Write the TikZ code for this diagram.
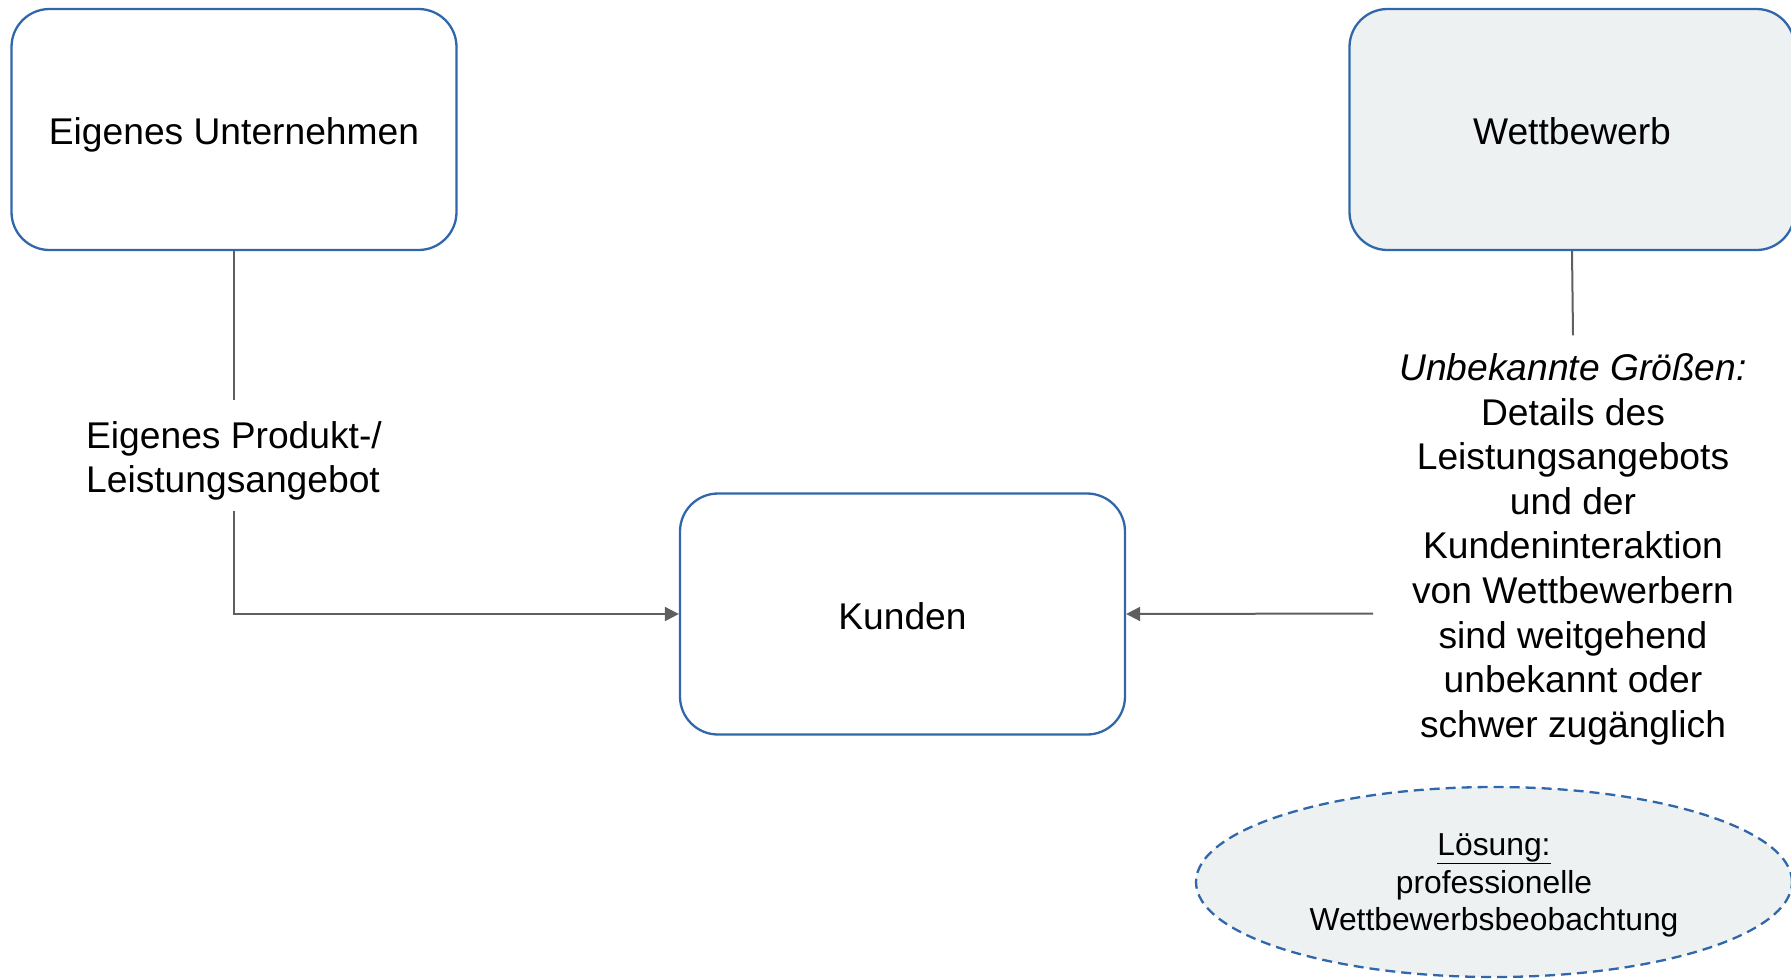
\documentclass[tikz,border=0pt]{standalone}
\usepackage{fontspec}
\setmainfont{Liberation Sans}
\usetikzlibrary{arrows.meta,shapes.geometric,calc}
\definecolor{boxblue}{RGB}{47,103,170}
\definecolor{boxfill}{RGB}{238,241,242}
\definecolor{conngray}{RGB}{95,95,95}
\begin{document}
\begin{tikzpicture}[x=1pt,y=1pt,
  mainbox/.style={draw=boxblue,line width=2.3pt,rounded corners=38pt,minimum width=445pt,minimum height=241pt,inner sep=0pt,text height=30pt,text depth=0pt,font=\fontsize{37.2}{44.6}\selectfont},
  bigtext/.style={font=\fontsize{37.2}{44.6}\selectfont,inner sep=0pt},
  conn/.style={draw=conngray,line width=2pt},
  arr/.style={conn,-{Triangle[length=14pt,width=14pt]}}]
\useasboundingbox (0,0) rectangle (1791,-978);
\node[mainbox] (eu) at (234,-129.5) {Eigenes Unternehmen};
\node[mainbox,fill=boxfill] (wb) at (1572,-129.5) {Wettbewerb};
\node[mainbox] (ku) at (902.5,-614) {Kunden};
\node[bigtext,align=left] (lbl) at (234,-461) {Eigenes Produkt-/\\Leistungsangebot};
\node[bigtext,align=center] (unk) at (1573,-549.2) {\textit{Unbekannte Größen:}\\Details des\\Leistungsangebots\\und der\\Kundeninteraktion\\von Wettbewerbern\\sind weitgehend\\unbekannt oder\\schwer zugänglich};
\coordinate (ws) at (1373,-613.5);
\node[ellipse,draw=boxblue,fill=boxfill,dashed,dash pattern=on 10pt off 6pt,line width=2.3pt,minimum width=596pt,minimum height=190pt,inner sep=0pt] (los) at (1494,-882) {};
\node[align=center,inner sep=0pt,font=\fontsize{31.8}{37.7}\selectfont] (lostext) at ([yshift=-3.4pt]los.center) {\underline{Lösung:}\\professionelle\\Wettbewerbsbeobachtung};
\draw[conn] (eu.south) -- ([yshift=21pt]lbl.north);
\draw[arr] ([yshift=-10pt]lbl.south) |- (ku.west);
\draw[conn] (wb.south) -- ([yshift=18pt]unk.north);
\draw[arr] (ws) -- (ku.east);
\end{tikzpicture}
\end{document}
